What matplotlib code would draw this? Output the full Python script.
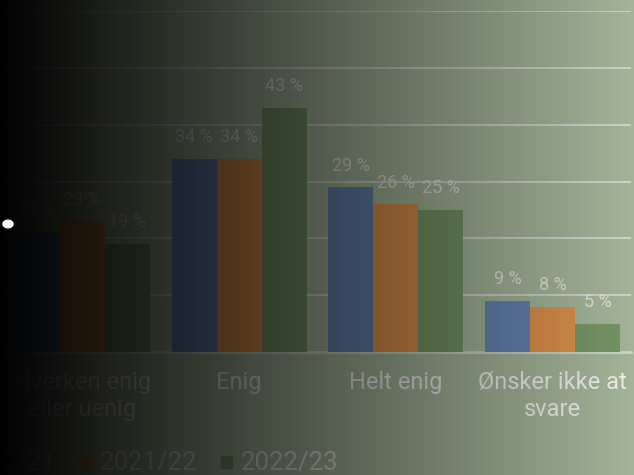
import numpy as np
import matplotlib
matplotlib.use("Agg")
import matplotlib.pyplot as plt
from matplotlib.patches import Rectangle, Circle

# DATA
categories = ["Hverken enig\neller uenig", "Enig", "Helt enig", "Ønsker ikke at\nsvare"]
series_names = ["2020/21", "2021/22", "2022/23"]
values_2020 = [21, 34, 29, 9]
values_2021 = [23, 34, 26, 8]
values_2022 = [19, 43, 25, 5]
series_values = [values_2020, values_2021, values_2022]
colors = ["#6483AF", "#DA904B", "#759565"]

plt.rcParams["font.family"] = ["Roboto", "DejaVu Sans"]

W, H = 634, 475
fig = plt.figure(figsize=(W / 100, H / 100), dpi=100)
fig.patch.set_facecolor("#A3B498")

ax = fig.add_axes([4 / W, 1 - 352 / H, 627 / W, 341 / H])
ax.set_facecolor("none")

x = np.arange(len(categories))
width = 0.287
for i, (name, vals) in enumerate(zip(series_names, series_values)):
    bars = ax.bar(x + (i - 1) * width, vals, width, color=colors[i], label=name, zorder=3)
    for b, v in zip(bars, vals):
        ax.annotate(f"{v} %", (b.get_x() + b.get_width() / 2, b.get_height()),
                    xytext=(0, 12), textcoords="offset points",
                    ha="center", va="baseline", fontsize=13, color="#E2E2DC")

ax.set_xlim(-0.5, 3.5)
ax.set_ylim(0, 60)
ax.set_yticks(range(10, 61, 10))
ax.yaxis.grid(True, color="#CDD2C8", linewidth=1.5, zorder=0)
ax.tick_params(axis="y", length=0, labelleft=False)
ax.set_xticks(x)
ax.set_xticklabels(categories, fontsize=17, color="#EDEDEA", linespacing=1.2)
ax.tick_params(axis="x", length=0, pad=14)
for s in ["top", "left", "right"]:
    ax.spines[s].set_visible(False)
ax.spines["bottom"].set_color("#CDD2C8")
ax.spines["bottom"].set_linewidth(2)

# legend (first entry runs off the left edge, as in the source crop)
for i, name in enumerate(series_names):
    hx = -61 + 141 * i
    fig.patches.append(Rectangle((hx / W, 1 - 468 / H), 11 / W, 12 / H,
                                 transform=fig.transFigure, color=colors[i], zorder=4))
    fig.text((hx + 20) / W, 1 - 470 / H, name, fontsize=18.5, color="#E2E2DC",
             va="baseline", ha="left", zorder=4)

# dark fade from the left
grad = np.linspace(1, 0, 400)
overlay = np.zeros((2, 400, 4))
overlay[..., 3] = grad
ov = fig.add_axes([0, 0, 1, 1], zorder=10)
ov.imshow(overlay, aspect="auto", extent=(0, 1, 0, 1), interpolation="bilinear")
ov.axis("off")

fig.patches.append(Circle((8 / W, 1 - 224 / H), 5 / W, transform=fig.transFigure,
                          color="white", zorder=20))

fig.savefig("out.png", dpi=100)
